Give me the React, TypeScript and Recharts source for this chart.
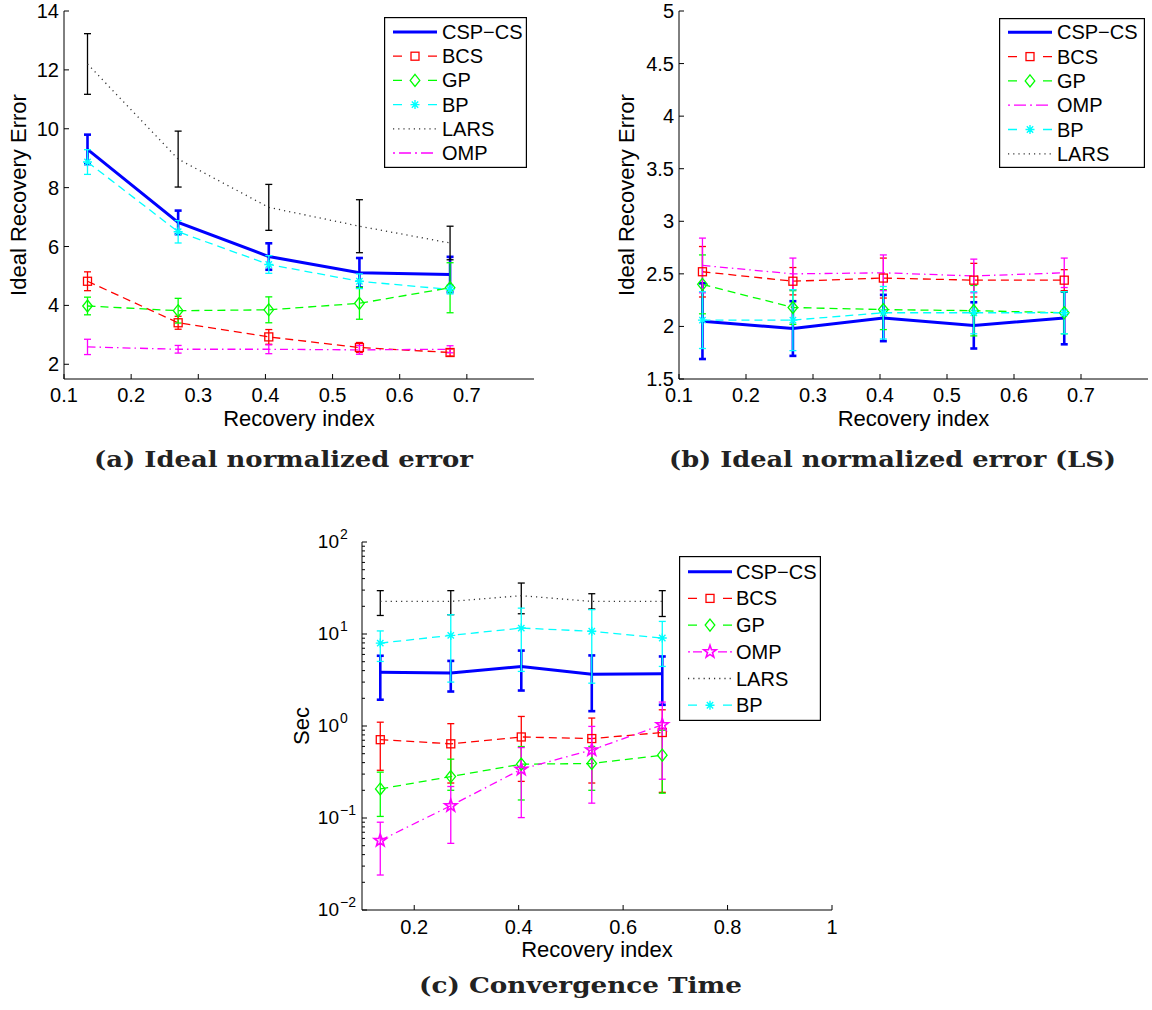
import React from 'react';
import { LineChart, Line, XAxis, YAxis, ErrorBar, Legend } from 'recharts';

const SANS = '"Liberation Sans", Arial, Helvetica, sans-serif';
const SERIF = '"DejaVu Serif", serif';

const BLUE = '#0000ff';
const RED = '#ff0000';
const GREEN = '#00ff00';
const CYAN = '#00ffff';
const MAGENTA = '#ff00ff';
const BLACK = '#000000';
const GREY = '#333333';

const DASH = '8 5';
const DOT = '1.2 4';
const DASHDOT = '8 4 1.5 4';

// recovery index (x positions shared by all three panels)
const X_POS = [0.135, 0.27, 0.405, 0.54, 0.675];

// (a) ideal normalized error, value and +- error
const A_CSP = [9.3, 6.82, 5.66, 5.11, 5.05];
const A_CSP_ERR = [0.5, 0.4, 0.45, 0.5, 0.6];
const A_BCS = [4.82, 3.41, 2.93, 2.57, 2.4];
const A_BCS_ERR = [0.32, 0.22, 0.25, 0.17, 0.12];
const A_GP = [3.98, 3.82, 3.85, 4.07, 4.6];
const A_GP_ERR = [0.3, 0.42, 0.44, 0.54, 0.85];
const A_BP = [8.87, 6.5, 5.39, 4.82, 4.54];
const A_BP_ERR = [0.42, 0.38, 0.3, 0.25, 0.15];
const A_LARS = [12.2, 8.97, 7.33, 6.69, 6.12];
const A_LARS_ERR = [1.03, 0.95, 0.78, 0.9, 0.57];
const A_OMP = [2.59, 2.51, 2.51, 2.49, 2.51];
const A_OMP_ERR = [0.26, 0.13, 0.15, 0.15, 0.12];

// (b) ideal normalized error (LS)
const B_CSP = [2.05, 1.98, 2.08, 2.01, 2.08];
const B_CSP_ERR = [0.36, 0.26, 0.22, 0.22, 0.25];
const B_BCS = [2.52, 2.43, 2.46, 2.44, 2.44];
const B_BCS_ERR = [0.24, 0.13, 0.19, 0.16, 0.1];
const B_GP = [2.4, 2.18, 2.16, 2.15, 2.13];
const B_GP_ERR = [0.28, 0.16, 0.19, 0.24, 0.2];
const B_OMP = [2.58, 2.5, 2.51, 2.48, 2.51];
const B_OMP_ERR = [0.26, 0.15, 0.17, 0.16, 0.14];
const B_BP = [2.06, 2.06, 2.13, 2.13, 2.13];
const B_BP_ERR = [0.27, 0.29, 0.25, 0.2, 0.2];

// (c) convergence time (sec), value with lower / upper bar ends
const C_CSP = [3.85, 3.76, 4.44, 3.66, 3.7];
const C_CSP_LO = [1.93, 2.37, 2.43, 1.45, 1.7];
const C_CSP_HI = [5.8, 5.1, 6.6, 5.85, 5.7];
const C_BCS = [0.71, 0.64, 0.76, 0.73, 0.85];
const C_BCS_LO = [0.33, 0.24, 0.25, 0.24, 0.19];
const C_BCS_HI = [1.1, 1.06, 1.27, 1.22, 1.5];
const C_GP = [0.207, 0.282, 0.385, 0.391, 0.482];
const C_GP_LO = [0.104, 0.2, 0.157, 0.2, 0.186];
const C_GP_HI = [0.315, 0.436, 0.598, 0.6, 0.9];
const C_OMP = [0.057, 0.136, 0.339, 0.55, 1.03];
const C_OMP_LO = [0.024, 0.053, 0.101, 0.145, 0.264];
const C_OMP_HI = [0.09, 0.22, 0.583, 0.99, 1.82];
const C_LARS = [22.6, 22.6, 26.1, 22.6, 22.6];
const C_LARS_LO = [15.9, 16.2, 16.6, 18.7, 15.5];
const C_LARS_HI = [29.6, 29.6, 35.8, 27.4, 29.6];
const C_BP = [7.96, 9.66, 11.6, 10.7, 9.04];
const C_BP_LO = [5.03, 3.0, 3.92, 2.92, 4.44];
const C_BP_HI = [10.8, 16.2, 19.1, 18.4, 13.7];

const X_TICKS_AB = [0.1, 0.2, 0.3, 0.4, 0.5, 0.6, 0.7];
const X_TICKS_C = [0.2, 0.4, 0.6, 0.8, 1];
const Y_TICKS_A = [2, 4, 6, 8, 10, 12, 14];
const Y_TICKS_B = [1.5, 2, 2.5, 3, 3.5, 4, 4.5, 5];
const Y_TICKS_C: number[] = [];
[0.01, 0.1, 1, 10].forEach((d) => {
  for (let k = 1; k < 10; k++) Y_TICKS_C.push(+(d * k).toPrecision(3));
});
Y_TICKS_C.push(100);

type MarkerKind = 'square' | 'diamond' | 'star' | 'pentagram';

function Marker({ kind, cx, cy, color }: { kind: MarkerKind; cx: number; cy: number; color: string }) {
  if (kind === 'square') {
    return <rect x={cx - 4} y={cy - 4} width={8} height={8} fill="none" stroke={color} strokeWidth={1.3} />;
  }
  if (kind === 'diamond') {
    return (
      <polygon
        points={`${cx},${cy - 6} ${cx + 4.8},${cy} ${cx},${cy + 6} ${cx - 4.8},${cy}`}
        fill="none"
        stroke={color}
        strokeWidth={1.3}
      />
    );
  }
  if (kind === 'star') {
    const r = 4.5;
    const d = r * 0.707;
    return (
      <path
        d={`M${cx - r},${cy}H${cx + r}M${cx},${cy - r}V${cy + r}M${cx - d},${cy - d}L${cx + d},${cy + d}M${cx - d},${cy + d}L${cx + d},${cy - d}`}
        stroke={color}
        strokeWidth={1.4}
        fill="none"
      />
    );
  }
  const pts: string[] = [];
  for (let k = 0; k < 10; k++) {
    const r = k % 2 === 0 ? 6.5 : 2.6;
    const a = -Math.PI / 2 + (k * Math.PI) / 5;
    pts.push(`${cx + r * Math.cos(a)},${cy + r * Math.sin(a)}`);
  }
  return <polygon points={pts.join(' ')} fill="none" stroke={color} strokeWidth={1.6} />;
}

interface Series {
  key: string;
  name: string;
  color: string;
  width: number;
  dash?: string;
  legendDash?: string;
  marker?: MarkerKind;
  barColor?: string;
  values: number[];
  err: (number | number[])[];
}

const bounds = (v: number[], lo: number[], hi: number[]) => v.map((m, i) => [m - lo[i], hi[i] - m]);

const seriesA: Series[] = [
  { key: 'csp', name: 'CSP−CS', color: BLUE, width: 3, values: A_CSP, err: A_CSP_ERR },
  { key: 'bcs', name: 'BCS', color: RED, width: 1.3, dash: DASH, legendDash: '9 26 9', marker: 'square', values: A_BCS, err: A_BCS_ERR },
  { key: 'gp', name: 'GP', color: GREEN, width: 1.3, dash: DASH, legendDash: '9 26 9', marker: 'diamond', values: A_GP, err: A_GP_ERR },
  { key: 'bp', name: 'BP', color: CYAN, width: 1.3, dash: DASH, legendDash: '9 26 9', marker: 'star', values: A_BP, err: A_BP_ERR },
  { key: 'lars', name: 'LARS', color: GREY, width: 1.3, dash: DOT, barColor: BLACK, values: A_LARS, err: A_LARS_ERR },
  { key: 'omp', name: 'OMP', color: MAGENTA, width: 1.3, dash: DASHDOT, legendDash: '2 4 12 4', values: A_OMP, err: A_OMP_ERR },
];

const seriesB: Series[] = [
  { key: 'csp', name: 'CSP−CS', color: BLUE, width: 3, values: B_CSP, err: B_CSP_ERR },
  { key: 'bcs', name: 'BCS', color: RED, width: 1.3, dash: DASH, legendDash: '9 26 9', marker: 'square', values: B_BCS, err: B_BCS_ERR },
  { key: 'gp', name: 'GP', color: GREEN, width: 1.3, dash: DASH, legendDash: '9 26 9', marker: 'diamond', values: B_GP, err: B_GP_ERR },
  { key: 'omp', name: 'OMP', color: MAGENTA, width: 1.3, dash: DASHDOT, legendDash: '2 4 12 4', values: B_OMP, err: B_OMP_ERR },
  { key: 'bp', name: 'BP', color: CYAN, width: 1.3, dash: DASH, legendDash: '9 26 9', marker: 'star', values: B_BP, err: B_BP_ERR },
];
// LARS only shows up in the legend of panel (b)
const legendB = [
  ...seriesB,
  { key: 'lars', name: 'LARS', color: GREY, width: 1.3, dash: DOT, values: [], err: [] } as Series,
];

const seriesC: Series[] = [
  { key: 'csp', name: 'CSP−CS', color: BLUE, width: 3, values: C_CSP, err: bounds(C_CSP, C_CSP_LO, C_CSP_HI) },
  { key: 'bcs', name: 'BCS', color: RED, width: 1.3, dash: DASH, legendDash: '9 26 9', marker: 'square', values: C_BCS, err: bounds(C_BCS, C_BCS_LO, C_BCS_HI) },
  { key: 'gp', name: 'GP', color: GREEN, width: 1.3, dash: DASH, legendDash: '9 26 9', marker: 'diamond', values: C_GP, err: bounds(C_GP, C_GP_LO, C_GP_HI) },
  { key: 'omp', name: 'OMP', color: MAGENTA, width: 1.3, dash: DASHDOT, legendDash: '2 3 9 16 9 3 2', marker: 'pentagram', values: C_OMP, err: bounds(C_OMP, C_OMP_LO, C_OMP_HI) },
  { key: 'lars', name: 'LARS', color: GREY, width: 1.3, dash: DOT, barColor: BLACK, values: C_LARS, err: bounds(C_LARS, C_LARS_LO, C_LARS_HI) },
  { key: 'bp', name: 'BP', color: CYAN, width: 1.3, dash: DASH, legendDash: '9 26 9', marker: 'star', values: C_BP, err: bounds(C_BP, C_BP_LO, C_BP_HI) },
];

const rowsFrom = (series: Series[]) =>
  X_POS.map((x, i) => {
    const row: any = { x };
    series.forEach((s) => {
      row[s.key] = s.values[i];
      row[s.key + 'Err'] = s.err[i];
    });
    return row;
  });

function LegendBox({ items, w, h, rowTop, rowGap, textX }: any) {
  return (
    <svg width={w} height={h} style={{ display: 'block' }}>
      <rect x={0.6} y={0.6} width={w - 1.2} height={h - 1.2} fill="#fff" stroke="#000" strokeWidth={1.2} />
      {items.map((it: Series, i: number) => {
        const y = rowTop + i * rowGap;
        return (
          <g key={it.key}>
            <line
              x1={9}
              x2={53}
              y1={y}
              y2={y}
              stroke={it.color}
              strokeWidth={it.width}
              strokeDasharray={it.legendDash ?? it.dash}
            />
            {it.marker && <Marker kind={it.marker} cx={31} cy={y} color={it.color} />}
            <text x={textX} y={y + 7} fontFamily={SANS} fontSize={20} fill="#000">
              {it.name}
            </text>
          </g>
        );
      })}
    </svg>
  );
}

function Panel(p: any) {
  const plotLeft = p.yAxisWidth;
  const plotRight = p.width - p.marginRight;
  const plotTop = p.marginTop;
  const plotBottom = p.height - p.xAxisHeight;
  const isMajor = (v: number) =>
    !p.log || Math.abs(Math.log10(v) - Math.round(Math.log10(v))) < 1e-6;
  const tickText = { fontFamily: SANS, fontSize: 20, fill: '#000' };
  const axisLine = { stroke: '#000', strokeWidth: 1 };

  const bottomTick = (t: any) => (
    <g>
      <line x1={t.x} x2={t.x} y1={plotBottom} y2={plotBottom - 5} stroke="#000" />
      <text x={t.x} y={plotBottom + p.xTickDy} textAnchor="middle" {...tickText}>
        {p.fmtX(t.payload.value)}
      </text>
    </g>
  );
  const topTick = (t: any) => (
    <line x1={t.x} x2={t.x} y1={plotTop} y2={plotTop + 5} stroke="#000" />
  );
  const leftTick = (t: any) => {
    const v = t.payload.value;
    const major = isMajor(v);
    const len = major ? 5 : 3;
    let label = null;
    if (major && p.log) {
      const e = Math.round(Math.log10(v));
      label = (
        <g>
          <text x={plotLeft - 23} y={t.y + 6} textAnchor="end" fontFamily={SANS} fontSize={19} fill="#000">
            10
          </text>
          <text x={plotLeft - 22} y={t.y - 3} textAnchor="start" fontFamily={SANS} fontSize={14} fill="#000">
            {e < 0 ? `−${-e}` : `${e}`}
          </text>
        </g>
      );
    } else if (major) {
      label = (
        <text x={plotLeft - 5} y={t.y + 7} textAnchor="end" {...tickText}>
          {String(v)}
        </text>
      );
    }
    return (
      <g>
        <line x1={plotLeft} x2={plotLeft + len} y1={t.y} y2={t.y} stroke="#000" />
        {label}
      </g>
    );
  };
  const rightTick = (t: any) => {
    const len = isMajor(t.payload.value) ? 5 : 3;
    return <line x1={plotRight} x2={plotRight - len} y1={t.y} y2={t.y} stroke="#000" />;
  };

  const xLabel = () => (
    <g>
      <text
        x={(plotLeft + plotRight) / 2}
        y={plotBottom + 47}
        textAnchor="middle"
        fontFamily={SANS}
        fontSize={22}
        fill="#000"
      >
        Recovery index
      </text>
      <text
        x={p.caption.x}
        y={p.caption.y}
        textLength={p.caption.len}
        lengthAdjust="spacingAndGlyphs"
        fontFamily={SERIF}
        fontWeight="bold"
        fontSize={23}
        fill="#222"
      >
        {p.caption.text}
      </text>
    </g>
  );
  const yLabel = () => {
    const cy = (plotTop + plotBottom) / 2;
    return (
      <text
        x={p.yLabelX}
        y={cy}
        transform={`rotate(-90, ${p.yLabelX}, ${cy})`}
        textAnchor="middle"
        fontFamily={SANS}
        fontSize={22}
        fill="#000"
      >
        {p.yLabel}
      </text>
    );
  };

  const yScale = p.log ? 'log' : 'linear';

  return (
    <div style={{ position: 'absolute', left: p.left, top: p.top }}>
      <LineChart
        width={p.width}
        height={p.height}
        data={p.rows}
        margin={{ top: p.marginTop, right: p.marginRight, left: 0, bottom: 0 }}
      >
        <XAxis
          dataKey="x"
          type="number"
          domain={p.xDomain}
          ticks={p.xTicks}
          interval={0}
          allowDataOverflow
          height={p.xAxisHeight}
          tickSize={0}
          tickMargin={0}
          tickLine={false}
          axisLine={axisLine}
          tick={bottomTick}
          label={{ content: xLabel }}
        />
        <XAxis
          xAxisId="top"
          orientation="top"
          dataKey="x"
          type="number"
          domain={p.xDomain}
          ticks={p.xTicks}
          interval={0}
          allowDataOverflow
          height={0}
          tickSize={0}
          tickMargin={0}
          tickLine={false}
          axisLine={axisLine}
          tick={topTick}
        />
        <YAxis
          type="number"
          scale={yScale}
          domain={p.yDomain}
          ticks={p.yTicks}
          interval={0}
          allowDataOverflow
          width={p.yAxisWidth}
          tickSize={0}
          tickMargin={0}
          tickLine={false}
          axisLine={axisLine}
          tick={leftTick}
          label={{ content: yLabel }}
        />
        <YAxis
          yAxisId="right"
          orientation="right"
          type="number"
          scale={yScale}
          domain={p.yDomain}
          ticks={p.yTicks}
          interval={0}
          allowDataOverflow
          width={0}
          tickSize={0}
          tickMargin={0}
          tickLine={false}
          axisLine={axisLine}
          tick={rightTick}
        />
        <Legend
          layout="vertical"
          align="center"
          verticalAlign="middle"
          wrapperStyle={{ left: p.legend.x, top: p.legend.y, width: p.legend.w, height: p.legend.h }}
          content={() => <LegendBox {...p.legend} />}
        />
        {p.series.map((s: Series) => (
          <Line
            key={s.key}
            dataKey={s.key}
            name={s.name}
            type="linear"
            stroke={s.color}
            strokeWidth={s.width}
            strokeDasharray={s.dash}
            isAnimationActive={false}
            activeDot={false}
            dot={
              s.marker
                ? (d: any) => (
                    <Marker key={`${s.key}-${d.index}`} kind={s.marker as MarkerKind} cx={d.cx} cy={d.cy} color={s.color} />
                  )
                : false
            }
          >
            <ErrorBar
              dataKey={`${s.key}Err`}
              direction="y"
              width={3.5}
              stroke={s.barColor ?? s.color}
              strokeWidth={s.width > 2 ? 2.6 : 1.3}
              isAnimationActive={false}
            />
          </Line>
        ))}
      </LineChart>
    </div>
  );
}

const fmt1 = (v: number) => v.toFixed(1);
const fmtC = (v: number) => (v === 1 ? '1' : v.toFixed(1));

export default function App() {
  return (
    <div style={{ position: 'absolute', left: 0, top: 0, width: 1152, height: 1010, background: '#fff' }}>
      <Panel
        left={0}
        top={0}
        width={560}
        height={490}
        marginTop={11}
        marginRight={26}
        yAxisWidth={64}
        xAxisHeight={111}
        xDomain={[0.1, 0.8]}
        xTicks={X_TICKS_AB}
        yDomain={[1.5, 14]}
        yTicks={Y_TICKS_A}
        fmtX={fmt1}
        xTickDy={23}
        yLabel="Ideal Recovery Error"
        yLabelX={26}
        series={seriesA}
        rows={rowsFrom(seriesA)}
        legend={{ items: seriesA, x: 384, y: 17, w: 143, h: 151, rowTop: 15, rowGap: 24.2, textX: 58 }}
        caption={{ text: '(a) Ideal normalized error', x: 94, y: 467, len: 379 }}
      />
      <Panel
        left={576}
        top={0}
        width={576}
        height={490}
        marginTop={11}
        marginRight={4}
        yAxisWidth={103}
        xAxisHeight={111}
        xDomain={[0.1, 0.8]}
        xTicks={X_TICKS_AB}
        yDomain={[1.5, 5]}
        yTicks={Y_TICKS_B}
        fmtX={fmt1}
        xTickDy={23}
        yLabel="Ideal Recovery Error"
        yLabelX={58}
        series={seriesB}
        rows={rowsFrom(seriesB)}
        legend={{ items: legendB, x: 423, y: 18, w: 146, h: 150, rowTop: 14.3, rowGap: 24.3, textX: 58 }}
        caption={{ text: '(b) Ideal normalized error (LS)', x: 93, y: 467, len: 447 }}
      />
      <Panel
        left={280}
        top={500}
        width={580}
        height={510}
        marginTop={42}
        marginRight={28}
        yAxisWidth={82}
        xAxisHeight={100}
        xDomain={[0.1, 1]}
        xTicks={X_TICKS_C}
        yDomain={[0.01, 100]}
        yTicks={Y_TICKS_C}
        log
        fmtX={fmtC}
        xTickDy={24}
        yLabel="Sec"
        yLabelX={29}
        series={seriesC}
        rows={rowsFrom(seriesC)}
        legend={{ items: seriesC, x: 399, y: 56, w: 142, h: 165, rowTop: 15.7, rowGap: 26.7, textX: 57 }}
        caption={{ text: '(c) Convergence Time', x: 139, y: 493, len: 323 }}
      />
    </div>
  );
}
